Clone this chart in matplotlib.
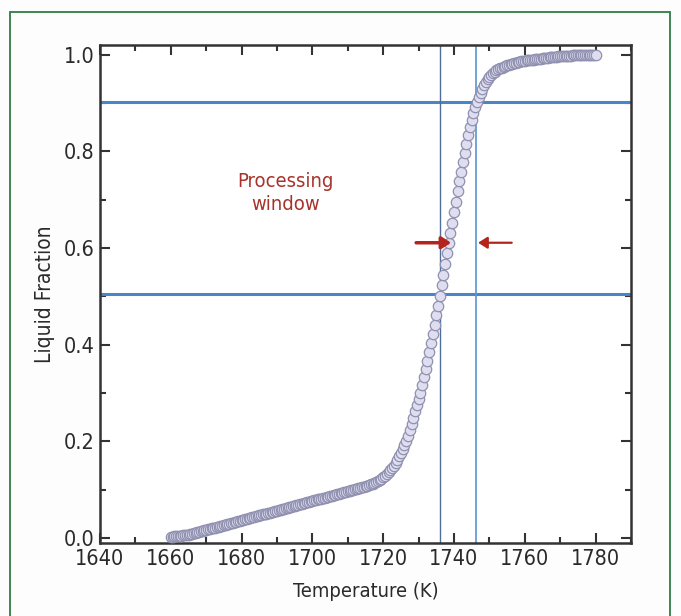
import matplotlib
matplotlib.use("Agg")
import matplotlib.pyplot as plt
from matplotlib.patches import Rectangle
from matplotlib.ticker import MultipleLocator

plt.rcParams["font.family"] = ["DejaVu Sans"]
plt.rcParams["font.stretch"] = "condensed"

# ------------------------------------
# Data
# ------------------------------------
temperature = [
    1660, 1660.5, 1661, 1661.5, 1662, 1662.5, 1663, 1663.5, 1664, 1664.5,
    1665, 1665.5, 1666, 1666.5, 1667, 1667.5, 1668, 1668.5, 1669, 1669.5,
    1670, 1670.5, 1671, 1671.5, 1672, 1672.5, 1673, 1673.5, 1674, 1674.5,
    1675, 1675.5, 1676, 1676.5, 1677, 1677.5, 1678, 1678.5, 1679, 1679.5,
    1680, 1680.5, 1681, 1681.5, 1682, 1682.5, 1683, 1683.5, 1684, 1684.5,
    1685, 1685.5, 1686, 1686.5, 1687, 1687.5, 1688, 1688.5, 1689, 1689.5,
    1690, 1690.5, 1691, 1691.5, 1692, 1692.5, 1693, 1693.5, 1694, 1694.5,
    1695, 1695.5, 1696, 1696.5, 1697, 1697.5, 1698, 1698.5, 1699, 1699.5,
    1700, 1700.5, 1701, 1701.5, 1702, 1702.5, 1703, 1703.5, 1704, 1704.5,
    1705, 1705.5, 1706, 1706.5, 1707, 1707.5, 1708, 1708.5, 1709, 1709.5,
    1710, 1710.5, 1711, 1711.5, 1712, 1712.5, 1713, 1713.5, 1714, 1714.5,
    1715, 1715.5, 1716, 1716.5, 1717, 1717.5, 1718, 1718.5, 1719, 1719.5,
    1720, 1720.5, 1721, 1721.5, 1722, 1722.5, 1723, 1723.5, 1724, 1724.5,
    1725, 1725.5, 1726, 1726.5, 1727, 1727.5, 1728, 1728.5, 1729, 1729.5,
    1730, 1730.5, 1731, 1731.5, 1732, 1732.5, 1733, 1733.5, 1734, 1734.5,
    1735, 1735.5, 1736, 1736.5, 1737, 1737.5, 1738, 1738.5, 1739, 1739.5,
    1740, 1740.5, 1741, 1741.5, 1742, 1742.5, 1743, 1743.5, 1744, 1744.5,
    1745, 1745.5, 1746, 1746.5, 1747, 1747.5, 1748, 1748.5, 1749, 1749.5,
    1750, 1750.5, 1751, 1751.5, 1752, 1752.5, 1753, 1753.5, 1754, 1754.5,
    1755, 1755.5, 1756, 1756.5, 1757, 1757.5, 1758, 1758.5, 1759, 1759.5,
    1760, 1760.5, 1761, 1761.5, 1762, 1762.5, 1763, 1763.5, 1764, 1764.5,
    1765, 1765.5, 1766, 1766.5, 1767, 1767.5, 1768, 1768.5, 1769, 1769.5,
    1770, 1770.5, 1771, 1771.5, 1772, 1772.5, 1773, 1773.5, 1774, 1774.5,
    1775, 1775.5, 1776, 1776.5, 1777, 1777.5, 1778, 1778.5, 1779, 1779.5,
    1780,
]

liquid_fraction = [
    0.003, 0.003, 0.004, 0.004, 0.004, 0.005, 0.005, 0.006, 0.006, 0.007,
    0.007, 0.008, 0.009, 0.010, 0.011, 0.012, 0.013, 0.014, 0.015, 0.016,
    0.017, 0.018, 0.019, 0.020, 0.021, 0.022, 0.023, 0.024, 0.025, 0.026,
    0.027, 0.028, 0.029, 0.030, 0.031, 0.032, 0.033, 0.034, 0.035, 0.036,
    0.037, 0.038, 0.039, 0.040, 0.041, 0.042, 0.043, 0.044, 0.045, 0.046,
    0.047, 0.048, 0.049, 0.050, 0.051, 0.052, 0.053, 0.054, 0.055, 0.056,
    0.057, 0.058, 0.059, 0.060, 0.061, 0.062, 0.063, 0.064, 0.065, 0.066,
    0.067, 0.068, 0.069, 0.070, 0.071, 0.072, 0.073, 0.074, 0.075, 0.076,
    0.077, 0.078, 0.079, 0.080, 0.081, 0.082, 0.083, 0.084, 0.085, 0.086,
    0.087, 0.088, 0.089, 0.090, 0.091, 0.092, 0.093, 0.094, 0.095, 0.096,
    0.097, 0.098, 0.099, 0.100, 0.101, 0.102, 0.103, 0.104, 0.105, 0.106,
    0.107, 0.108, 0.110, 0.111, 0.113, 0.115, 0.117, 0.119, 0.121, 0.123,
    0.126, 0.129, 0.132, 0.136, 0.140, 0.145, 0.150, 0.156, 0.162, 0.169,
    0.176, 0.184, 0.192, 0.200, 0.211, 0.223, 0.236, 0.249, 0.262, 0.275,
    0.288, 0.300, 0.316, 0.333, 0.350, 0.367, 0.385, 0.403, 0.422, 0.441,
    0.461, 0.481, 0.501, 0.523, 0.545, 0.567, 0.589, 0.610, 0.631, 0.652,
    0.674, 0.696, 0.717, 0.738, 0.758, 0.778, 0.797, 0.816, 0.834, 0.850,
    0.865, 0.879, 0.891, 0.902, 0.912, 0.921, 0.929, 0.937, 0.943, 0.949,
    0.954, 0.958, 0.962, 0.965, 0.968, 0.970, 0.972, 0.973, 0.975, 0.976,
    0.978, 0.979, 0.980, 0.981, 0.982, 0.983, 0.984, 0.985, 0.986, 0.986,
    0.987, 0.988, 0.989, 0.989, 0.990, 0.990, 0.991, 0.991, 0.992, 0.992,
    0.993, 0.993, 0.994, 0.994, 0.995, 0.995, 0.996, 0.996, 0.996, 0.997,
    0.997, 0.997, 0.997, 0.998, 0.998, 0.998, 0.998, 0.999, 0.999, 0.999,
    0.999, 0.999, 0.999, 1.000, 1.000, 1.000, 1.000, 1.000, 1.000, 1.000,
    1.000,
]

# processing window guides
h_levels = [0.903, 0.505]
v_temps = [1736.0, 1746.3]
arrow_y = 0.611
left_arrow = (1729.3, 1739.2)   # tail, head
right_arrow = (1756.3, 1746.8)  # tail, head

# ------------------------------------
# Figure
# ------------------------------------
fig = plt.figure(figsize=(6.81, 6.16), dpi=100)
fig.patch.set_facecolor("#fdfdfd")

# green frame around the figure
fig.patches.append(Rectangle((10 / 681, -0.05), 660 / 681, 1 - 12 / 616 + 0.05,
                             transform=fig.transFigure, fill=False,
                             edgecolor="#2f7d45", linewidth=1.3))

ax = fig.add_axes([100 / 681, 1 - 543 / 616, 531 / 681, 498 / 616])
ax.set_facecolor("white")

for y in h_levels:
    ax.axhline(y, color="#4a86c5", linewidth=2.2, zorder=2)

ax.axvline(v_temps[0], color="#4f6f9a", linewidth=1.0, zorder=2)
ax.axvline(v_temps[1], color="#5b93d3", linewidth=1.2, zorder=2)

ax.plot(temperature, liquid_fraction, linestyle="none", marker="o",
        markersize=7.5, markerfacecolor="#dedef0",
        markeredgecolor="#9090b0", markeredgewidth=0.9, zorder=3)

arrow_style = dict(arrowstyle="-|>,head_length=0.55,head_width=0.35",
                   color="#b5241c", linewidth=2.5, shrinkA=0, shrinkB=0)
ax.annotate("", xy=(left_arrow[1], arrow_y), xytext=(left_arrow[0], arrow_y),
            arrowprops=arrow_style, zorder=4)
ax.annotate("", xy=(right_arrow[1], arrow_y), xytext=(right_arrow[0], arrow_y),
            arrowprops=dict(arrow_style, linewidth=1.6), zorder=4)

ax.text(1692.5, 0.714, "Processing\nwindow", color="#a8332a", fontsize=14.5,
        ha="center", va="center", linespacing=1.3)

ax.set_xlim(1640, 1790)
ax.set_ylim(-0.01, 1.02)
ax.xaxis.set_major_locator(MultipleLocator(20))
ax.xaxis.set_minor_locator(MultipleLocator(10))
ax.yaxis.set_major_locator(MultipleLocator(0.2))
ax.yaxis.set_minor_locator(MultipleLocator(0.1))
ax.set_xticks([1640, 1660, 1680, 1700, 1720, 1740, 1760, 1780])
ax.set_yticks([0.0, 0.2, 0.4, 0.6, 0.8, 1.0])
ax.set_yticklabels(["0.0", "0.2", "0.4", "0.6", "0.8", "1.0"])

ax.tick_params(which="both", direction="in", top=True, right=True,
               color="#333333", width=1.5)
ax.tick_params(which="major", length=7, labelsize=15.5, labelcolor="#2a2a2a", pad=4)
ax.tick_params(which="minor", length=4)
for spine in ax.spines.values():
    spine.set_linewidth(1.8)
    spine.set_color("#333333")

ax.set_xlabel("Temperature (K)", fontsize=14.5, color="#2a2a2a", labelpad=10)
ax.set_ylabel("Liquid Fraction", fontsize=15, color="#2a2a2a", labelpad=6)

fig.savefig("out.png", dpi=100, facecolor=fig.get_facecolor())
